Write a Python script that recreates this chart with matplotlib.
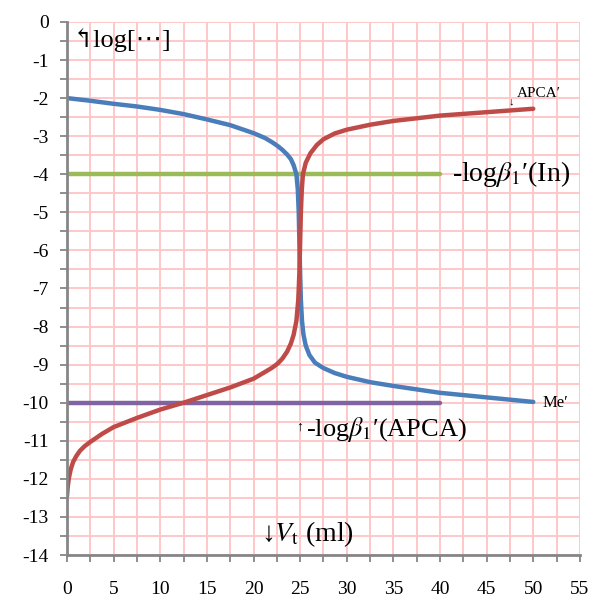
import numpy as np
import matplotlib
matplotlib.use('Agg')
import matplotlib.pyplot as plt
from matplotlib.ticker import MultipleLocator

# titrant volume (ml) and log concentrations
me_x = [0, 2.5, 5, 7.5, 10, 12.5, 15, 17.5, 20, 21.25, 22, 22.6, 23.1, 23.6,
        24, 24.3, 24.6, 24.75, 24.85, 24.92, 25, 25.08, 25.2, 25.35, 25.6,
        26, 26.6, 27.5, 28.7, 30, 32.5, 35, 37.5, 40, 45, 50]
me_y = [-2.0, -2.07, -2.15, -2.22, -2.31, -2.42, -2.56, -2.71, -2.92, -3.05,
        -3.16, -3.26, -3.36, -3.48, -3.6, -3.76, -4.0, -4.4, -5.0, -5.8,
        -6.6, -7.3, -7.85, -8.2, -8.5, -8.75, -8.95, -9.09, -9.22, -9.32,
        -9.46, -9.56, -9.65, -9.74, -9.86, -9.98]

apca_x = [0, 0.08, 0.2, 0.4, 0.65, 1.0, 1.4, 1.9, 2.5, 3.75, 5, 7.5, 10,
          12.5, 15, 17.5, 20, 21.25, 22, 22.6, 23.1, 23.6, 24, 24.3, 24.6,
          24.8, 24.92, 25, 25.08, 25.18, 25.3, 25.6, 26.1, 26.8, 27.5, 28.7,
          30, 32.5, 35, 37.5, 40, 45, 50]
apca_y = [-12.45, -12.2, -11.98, -11.75, -11.56, -11.4, -11.26, -11.14,
          -11.03, -10.82, -10.64, -10.4, -10.18, -10.0, -9.8, -9.6, -9.37,
          -9.19, -9.08, -8.97, -8.84, -8.66, -8.45, -8.22, -7.85, -7.3,
          -6.6, -5.8, -5.0, -4.4, -4.0, -3.7, -3.45, -3.23, -3.08, -2.93,
          -2.83, -2.70, -2.60, -2.53, -2.46, -2.37, -2.28]

in_x = [0, 40]
in_y = [-4, -4]
apca_b_x = [0, 40]
apca_b_y = [-10, -10]

x_ticks = list(range(0, 56, 5))
y_ticks = list(range(-14, 1))

plt.rcParams['mathtext.fontset'] = 'stix'
plt.rcParams['axes.unicode_minus'] = False
serif = ['Liberation Serif', 'DejaVu Serif', 'DejaVu Sans']

fig = plt.figure(figsize=(5.95, 6.01), dpi=100)
ax = fig.add_axes([0.1126, 0.0765, 0.862, 0.887])

ax.plot(in_x, in_y, color='#9BBB59', lw=3.2, solid_capstyle='round')
ax.plot(apca_b_x, apca_b_y, color='#8064A2', lw=3.2, solid_capstyle='round')
ax.plot(me_x, me_y, color='#4A7EBB', lw=3.2, solid_capstyle='round',
        solid_joinstyle='round')
ax.plot(apca_x, apca_y, color='#BE4B48', lw=3.2, solid_capstyle='round',
        solid_joinstyle='round')

ax.set_xlim(0, 55)
ax.set_ylim(-14, 0)
ax.set_xticks(x_ticks)
ax.set_yticks(y_ticks)
ax.xaxis.set_minor_locator(MultipleLocator(2.5))
ax.yaxis.set_minor_locator(MultipleLocator(0.5))
ax.grid(which='both', color='#FFC8C8', lw=1.4)
ax.set_axisbelow(True)

for side in ['top', 'right']:
    ax.spines[side].set_visible(False)
for side in ['left', 'bottom']:
    ax.spines[side].set_color('#868686')
    ax.spines[side].set_linewidth(2)

ax.tick_params(which='both', direction='out', length=5, width=1.3,
               color='#868686', labelsize=14)
ax.tick_params(axis='x', which='major', pad=14)
ax.tick_params(axis='y', which='major', pad=8)
for lab in ax.get_xticklabels() + ax.get_yticklabels():
    lab.set_family(serif)

ax.text(0.5, -0.15, '↰log[⋯]', fontsize=19, family=serif, va='top')
ax.text(47.3, -2.1, '↓', fontsize=8, family=serif, va='center')
ax.text(48.2, -2.05, 'APCA′', fontsize=11, family=serif, va='bottom')
ax.text(41.3, -4, '-log$\\beta_1$′(In)', fontsize=20, family=serif,
        va='center')
ax.text(51, -10, 'Me′', fontsize=12, family=serif, va='center')
ax.text(24.6, -10.65, '↑', fontsize=10, family=serif, va='center')
ax.text(25.6, -10.7, '-log$\\beta_1$′(APCA)', fontsize=19, family=serif,
        va='center')
ax.text(20.8, -13.45, '↓$V_\\mathrm{t}$ (ml)', fontsize=20, family=serif,
        va='center')

fig.savefig('out.png', dpi=100)
